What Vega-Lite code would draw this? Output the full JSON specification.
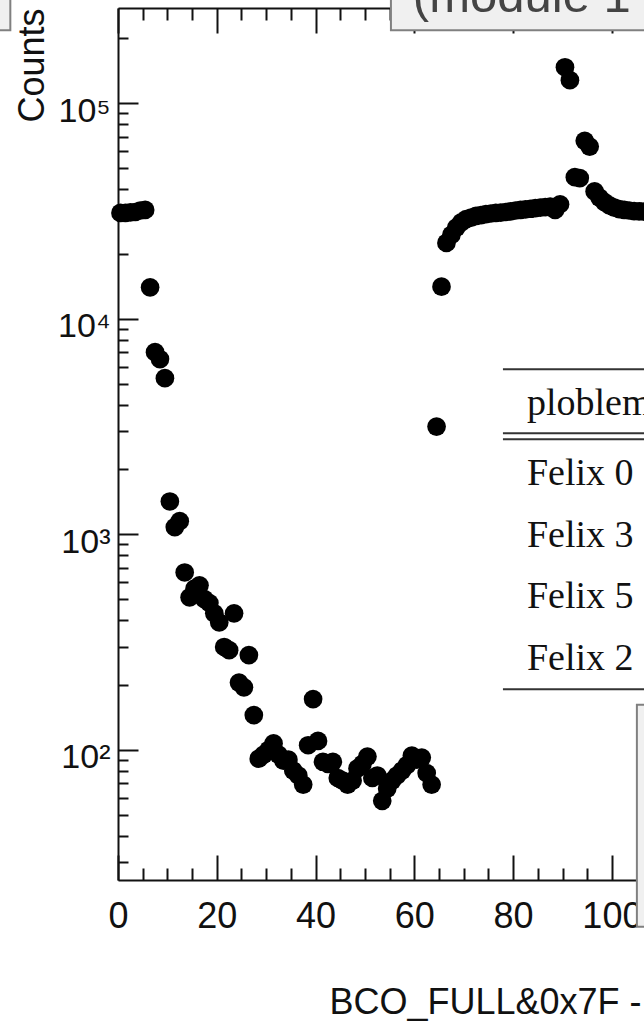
{
  "$schema": "https://vega.github.io/schema/vega-lite/v6.json",
  "width": 526,
  "height": 872,
  "autosize": {"type": "none"},
  "padding": {"left": 118, "top": 8, "right": 0, "bottom": 142},
  "background": "white",
  "config": {"view": {"stroke": null}},
  "resolve": {"axis": {"x": "independent", "y": "independent"}},
  "layer": [
    {
      "data": {"values": [
        {"bin": 0.5, "counts": 31000}, {"bin": 1.5, "counts": 31000}, {"bin": 2.5, "counts": 31200}, {"bin": 3.5, "counts": 31300},
        {"bin": 4.5, "counts": 31800}, {"bin": 5.5, "counts": 32000}, {"bin": 6.5, "counts": 14000}, {"bin": 7.5, "counts": 7000},
        {"bin": 8.5, "counts": 6500}, {"bin": 9.5, "counts": 5300}, {"bin": 10.5, "counts": 1420}, {"bin": 11.5, "counts": 1080},
        {"bin": 12.5, "counts": 1150}, {"bin": 13.5, "counts": 665}, {"bin": 14.5, "counts": 510}, {"bin": 15.5, "counts": 560},
        {"bin": 16.5, "counts": 580}, {"bin": 17.5, "counts": 500}, {"bin": 18.5, "counts": 480}, {"bin": 19.5, "counts": 430},
        {"bin": 20.5, "counts": 390}, {"bin": 21.5, "counts": 300}, {"bin": 22.5, "counts": 290}, {"bin": 23.5, "counts": 430},
        {"bin": 24.5, "counts": 205}, {"bin": 25.5, "counts": 195}, {"bin": 26.5, "counts": 275}, {"bin": 27.5, "counts": 145},
        {"bin": 28.5, "counts": 91}, {"bin": 29.5, "counts": 95}, {"bin": 30.5, "counts": 100}, {"bin": 31.5, "counts": 107},
        {"bin": 32.5, "counts": 95}, {"bin": 33.5, "counts": 89}, {"bin": 34.5, "counts": 90}, {"bin": 35.5, "counts": 80},
        {"bin": 36.5, "counts": 76}, {"bin": 37.5, "counts": 69}, {"bin": 38.5, "counts": 105}, {"bin": 39.5, "counts": 172},
        {"bin": 40.5, "counts": 110}, {"bin": 41.5, "counts": 88}, {"bin": 42.5, "counts": 86}, {"bin": 43.5, "counts": 88},
        {"bin": 44.5, "counts": 74}, {"bin": 45.5, "counts": 72}, {"bin": 46.5, "counts": 69}, {"bin": 47.5, "counts": 72},
        {"bin": 48.5, "counts": 82}, {"bin": 49.5, "counts": 86}, {"bin": 50.5, "counts": 93}, {"bin": 51.5, "counts": 74},
        {"bin": 52.5, "counts": 76}, {"bin": 53.5, "counts": 58}, {"bin": 54.5, "counts": 66}, {"bin": 55.5, "counts": 72},
        {"bin": 56.5, "counts": 76}, {"bin": 57.5, "counts": 80}, {"bin": 58.5, "counts": 85}, {"bin": 59.5, "counts": 94},
        {"bin": 60.5, "counts": 90}, {"bin": 61.5, "counts": 92}, {"bin": 62.5, "counts": 78}, {"bin": 63.5, "counts": 69},
        {"bin": 64.5, "counts": 3160}, {"bin": 65.5, "counts": 14100}, {"bin": 66.5, "counts": 22500}, {"bin": 67.5, "counts": 24500},
        {"bin": 68.5, "counts": 26500}, {"bin": 69.5, "counts": 28000}, {"bin": 70.5, "counts": 29000}, {"bin": 71.5, "counts": 29500},
        {"bin": 72.5, "counts": 30000}, {"bin": 73.5, "counts": 30300}, {"bin": 74.5, "counts": 30600}, {"bin": 75.5, "counts": 30800},
        {"bin": 76.5, "counts": 31000}, {"bin": 77.5, "counts": 31100}, {"bin": 78.5, "counts": 31300}, {"bin": 79.5, "counts": 31500},
        {"bin": 80.5, "counts": 31800}, {"bin": 81.5, "counts": 32000}, {"bin": 82.5, "counts": 32200}, {"bin": 83.5, "counts": 32400},
        {"bin": 84.5, "counts": 32600}, {"bin": 85.5, "counts": 32800}, {"bin": 86.5, "counts": 33000}, {"bin": 87.5, "counts": 33200},
        {"bin": 88.5, "counts": 32000}, {"bin": 89.5, "counts": 34000}, {"bin": 90.5, "counts": 147000}, {"bin": 91.5, "counts": 128000},
        {"bin": 92.5, "counts": 45400}, {"bin": 93.5, "counts": 45000}, {"bin": 94.5, "counts": 67000}, {"bin": 95.5, "counts": 63000},
        {"bin": 96.5, "counts": 39000}, {"bin": 97.5, "counts": 36500}, {"bin": 98.5, "counts": 34800}, {"bin": 99.5, "counts": 33600},
        {"bin": 100.5, "counts": 32800}, {"bin": 101.5, "counts": 32300}, {"bin": 102.5, "counts": 32000}, {"bin": 103.5, "counts": 31800},
        {"bin": 104.5, "counts": 31600}, {"bin": 105.5, "counts": 31500}, {"bin": 106.5, "counts": 31400}, {"bin": 107.5, "counts": 31300}
      ]},
      "mark": {"type": "circle", "size": 350, "color": "black", "opacity": 1},
      "encoding": {
        "x": {
          "field": "bin", "type": "quantitative",
          "scale": {"domain": [0, 106.5], "nice": false, "zero": false},
          "axis": {
            "orient": "bottom",
            "values": [0,5,10,15,20,25,30,35,40,45,50,55,60,65,70,75,80,85,90,95,100,105],
            "tickSize": {"condition": {"test": "datum.value % 20 === 0", "value": -25}, "value": -12},
            "labelExpr": "datum.value % 20 === 0 ? datum.label : ''",
            "labelPadding": 44, "labelFontSize": 36, "labelFont": "Liberation Sans", "labelColor": "#111",
            "labelFlush": false, "labelOverlap": false, "labelBaseline": "top",
            "grid": false, "domainColor": "#111", "domainWidth": 2, "tickColor": "#111", "tickWidth": 2,
            "title": "BCO_FULL&0x7F - FPHX_BCO", "titleFont": "Liberation Sans", "titleFontSize": 36,
            "titleFontWeight": "normal", "titleColor": "#111", "titleX": 211, "titleY": 133,
            "titleAlign": "left", "titleBaseline": "alphabetic"
          }
        },
        "y": {
          "field": "counts", "type": "quantitative",
          "scale": {"type": "log", "domain": [24.88, 276800], "nice": false, "zero": false},
          "axis": {
            "orient": "left",
            "values": [30,40,50,60,70,80,90,100,200,300,400,500,600,700,800,900,1000,2000,3000,4000,5000,6000,7000,8000,9000,10000,20000,30000,40000,50000,60000,70000,80000,90000,100000,200000],
            "tickSize": {"condition": {"test": "indexof([100,1000,10000,100000], datum.value) >= 0", "value": -20}, "value": -10},
            "labelExpr": "datum.value === 100 ? '10²' : datum.value === 1000 ? '10³' : datum.value === 10000 ? '10⁴' : datum.value === 100000 ? '10⁵' : ''",
            "labelPadding": 28, "labelFontSize": 34, "labelFont": "Liberation Sans", "labelColor": "#111",
            "labelBaseline": "middle", "labelOffset": 8, "labelAlign": "right", "labelFlush": false, "labelOverlap": false,
            "grid": false, "domainColor": "#111", "domainWidth": 2, "tickColor": "#111", "tickWidth": 2,
            "title": "Counts", "titleFont": "Liberation Sans", "titleFontSize": 36, "titleFontWeight": "normal",
            "titleColor": "#111", "titleX": -75, "titleY": 0, "titleAngle": -90, "titleAlign": "right", "titleBaseline": "alphabetic"
          }
        }
      }
    },
    {
      "data": {"values": [
        {"x1": 55.26, "x2": 130, "y1": 218000, "y2": 10000000},
        {"x1": 105.06, "x2": 130, "y1": 15.1, "y2": 161.7},
        {"x1": -40, "x2": -21.8, "y1": 218000, "y2": 10000000}
      ]},
      "mark": {"type": "rect", "fill": "#f0f0f0", "stroke": "#808080", "strokeWidth": 2},
      "encoding": {
        "x": {
          "field": "x1", "type": "quantitative",
          "scale": {"domain": [0, 106.5], "nice": false, "zero": false},
          "axis": {
            "orient": "top",
            "values": [0,5,10,15,20,25,30,35,40,45,50,55,60,65,70,75,80,85,90,95,100,105],
            "tickSize": {"condition": {"test": "datum.value % 20 === 0", "value": -25}, "value": -12},
            "labels": false, "grid": false, "title": null,
            "domainColor": "#111", "domainWidth": 2, "tickColor": "#111", "tickWidth": 2
          }
        },
        "x2": {"field": "x2"},
        "y": {
          "field": "y1", "type": "quantitative",
          "scale": {"type": "log", "domain": [24.88, 276800], "nice": false, "zero": false},
          "axis": null
        },
        "y2": {"field": "y2"}
      }
    },
    {
      "data": {"values": [{"x": 59.7, "y": 265200, "label": "(module 1 chip 1)"}]},
      "mark": {"type": "text", "align": "left", "baseline": "alphabetic", "font": "Liberation Sans", "fontSize": 49, "color": "#444"},
      "encoding": {
        "x": {"field": "x", "type": "quantitative", "scale": {"domain": [0, 106.5], "nice": false, "zero": false}, "axis": null},
        "y": {"field": "y", "type": "quantitative", "scale": {"type": "log", "domain": [24.88, 276800], "nice": false, "zero": false}, "axis": null},
        "text": {"field": "label"}
      }
    },
    {
      "data": {"values": [
        {"x1": 77.94, "x2": 130, "y": 5832},
        {"x1": 77.94, "x2": 130, "y": 2942},
        {"x1": 77.94, "x2": 130, "y": 2760},
        {"x1": 77.94, "x2": 130, "y": 190.9}
      ]},
      "mark": {"type": "rule", "color": "#333", "strokeWidth": 2},
      "encoding": {
        "x": {"field": "x1", "type": "quantitative", "scale": {"domain": [0, 106.5], "nice": false, "zero": false}, "axis": null},
        "x2": {"field": "x2"},
        "y": {"field": "y", "type": "quantitative", "scale": {"type": "log", "domain": [24.88, 276800], "nice": false, "zero": false}, "axis": null}
      }
    },
    {
      "data": {"values": [
        {"x": 82.8, "y": 3565, "label": "ploblem module"},
        {"x": 82.8, "y": 1688, "label": "Felix 0"},
        {"x": 82.8, "y": 870.6, "label": "Felix 3"},
        {"x": 82.8, "y": 453.6, "label": "Felix 5"},
        {"x": 82.8, "y": 233.8, "label": "Felix 2"}
      ]},
      "mark": {"type": "text", "align": "left", "baseline": "alphabetic", "font": "Liberation Serif", "fontSize": 38, "color": "#111"},
      "encoding": {
        "x": {"field": "x", "type": "quantitative", "scale": {"domain": [0, 106.5], "nice": false, "zero": false}, "axis": null},
        "y": {"field": "y", "type": "quantitative", "scale": {"type": "log", "domain": [24.88, 276800], "nice": false, "zero": false}, "axis": null},
        "text": {"field": "label"}
      }
    }
  ]
}
